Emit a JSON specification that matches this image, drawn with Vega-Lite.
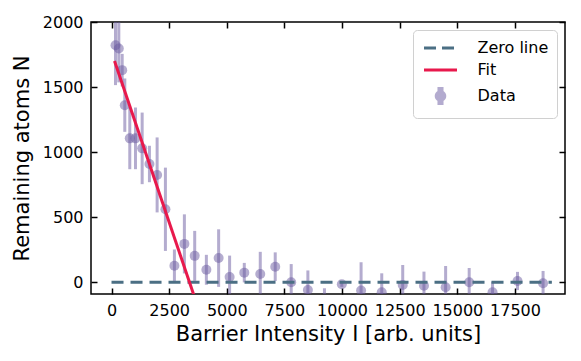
{
  "$schema": "https://vega.github.io/schema/vega-lite/v6.json",
  "width": 474,
  "height": 272,
  "autosize": {"type": "none"},
  "padding": {"left": 91, "top": 22, "right": 16, "bottom": 67},
  "background": "white",
  "config": {
    "font": "DejaVu Sans",
    "view": {"stroke": "black", "strokeWidth": 1.5},
    "axis": {
      "grid": false,
      "domain": false,
      "tickColor": "black",
      "tickWidth": 1.5,
      "tickSize": -6,
      "labelFont": "DejaVu Sans",
      "labelFontSize": 16,
      "labelColor": "black",
      "titleFont": "DejaVu Sans",
      "titleFontSize": 21,
      "titleFontWeight": "normal",
      "titleColor": "black"
    }
  },
  "datasets": {
    "pts": [
      {"x": 173, "y": 1822, "lo": 1515, "hi": 2129},
      {"x": 316, "y": 1796, "lo": 1536, "hi": 2056},
      {"x": 463, "y": 1630, "lo": 1505, "hi": 1755},
      {"x": 576, "y": 1361, "lo": 1156, "hi": 1566},
      {"x": 792, "y": 1106, "lo": 869, "hi": 1343},
      {"x": 1039, "y": 1106, "lo": 869, "hi": 1343},
      {"x": 1329, "y": 1029, "lo": 754, "hi": 1304},
      {"x": 1645, "y": 909, "lo": 769, "hi": 1049},
      {"x": 1978, "y": 825, "lo": 537, "hi": 1113},
      {"x": 2338, "y": 561, "lo": 241, "hi": 881},
      {"x": 2728, "y": 127, "lo": 2, "hi": 252},
      {"x": 3161, "y": 295, "lo": 68, "hi": 522},
      {"x": 3608, "y": 203, "lo": 11, "hi": 395},
      {"x": 4114, "y": 96, "lo": -19, "hi": 211},
      {"x": 4646, "y": 186, "lo": -35, "hi": 407},
      {"x": 5122, "y": 40, "lo": -125, "hi": 205},
      {"x": 5759, "y": 74, "lo": -1, "hi": 149},
      {"x": 6452, "y": 64, "lo": -106, "hi": 234},
      {"x": 7101, "y": 120, "lo": 10, "hi": 230},
      {"x": 7794, "y": 0, "lo": -140, "hi": 140},
      {"x": 8517, "y": -59, "lo": -209, "hi": 91},
      {"x": 9236, "y": -160, "lo": -274, "hi": -46},
      {"x": 9989, "y": -15, "lo": -35, "hi": 5},
      {"x": 10825, "y": -64, "lo": -282, "hi": 154},
      {"x": 11721, "y": -77, "lo": -223, "hi": 69},
      {"x": 12631, "y": -21, "lo": -175, "hi": 133},
      {"x": 13553, "y": -26, "lo": -134, "hi": 82},
      {"x": 14492, "y": -38, "lo": -201, "hi": 125},
      {"x": 15514, "y": 0, "lo": -110, "hi": 110},
      {"x": 16527, "y": -77, "lo": -159, "hi": 5},
      {"x": 17610, "y": 10, "lo": -60, "hi": 80},
      {"x": 18719, "y": -8, "lo": -103, "hi": 87}
    ],
    "zero": [
      {"x": 0, "y": 0, "series": "Zero line"},
      {"x": 19100, "y": 0, "series": "Zero line"}
    ],
    "fit": [
      {"x": 130, "y": 1701, "series": "Fit"},
      {"x": 3574, "y": -100, "series": "Fit"}
    ]
  },
  "layer": [
    {
      "data": {"name": "pts"},
      "mark": {"type": "rule", "strokeWidth": 3, "color": "#6a5aa0", "opacity": 0.5, "clip": true},
      "encoding": {
        "x": {"field": "x", "type": "quantitative",
              "scale": {"domain": [-890, 19670], "nice": false, "zero": false},
              "axis": {"orient": "bottom", "values": [0, 2500, 5000, 7500, 10000, 12500, 15000, 17500], "format": "d", "labelPadding": 14, "title": "Barrier Intensity  I [arb. units]", "titlePadding": 5}},
        "y": {"field": "lo", "type": "quantitative",
              "scale": {"domain": [-90, 2000], "nice": false, "zero": false},
              "axis": {"orient": "left", "values": [0, 500, 1000, 1500, 2000], "format": "d", "labelPadding": 14, "title": "Remaining atoms N", "titlePadding": 10}},
        "y2": {"field": "hi"}
      }
    },
    {
      "data": {"name": "pts"},
      "transform": [{"calculate": "'Data'", "as": "series"}],
      "mark": {"type": "point", "filled": true, "size": 100, "opacity": 0.5, "clip": true},
      "encoding": {
        "x": {"field": "x", "type": "quantitative", "axis": null},
        "y": {"field": "y", "type": "quantitative", "axis": null},
        "color": {"field": "series", "type": "nominal",
          "scale": {"domain": ["Zero line", "Fit", "Data"], "range": ["#4b6f84", "#e8194c", "#6a5aa0"]},
          "legend": {
            "title": null,
            "orient": "top-right",
            "offset": 8,
            "padding": 8,
            "rowPadding": 4,
            "labelFont": "DejaVu Sans",
            "labelFontSize": 16,
            "labelColor": "black",
            "labelOffset": 27,
            "symbolOffset": 9.5,
            "symbolSize": 289,
            "symbolStrokeWidth": 3,
            "strokeColor": "#d0d0d0",
            "cornerRadius": 4,
            "fillColor": "white",
            "encoding": {
              "symbols": {
                "shape": {"value": {"signal": "datum.value === 'Data' ? 'M-0.18,-0.88H0.18V0.88H-0.18Z M0.5,0A0.5,0.5 0 1,1 -0.5,0A0.5,0.5 0 1,1 0.5,0Z' : 'M-1.94,0H1.94'"}},
                "size": {"value": 289},
                "stroke": {"value": {"signal": "datum.value === 'Data' ? 'transparent' : (datum.value === 'Fit' ? '#e8194c' : '#4b6f84')"}},
                "fill": {"value": {"signal": "datum.value === 'Data' ? '#6a5aa0' : 'transparent'"}},
                "fillOpacity": {"value": 1},
                "strokeOpacity": {"value": 1},
                "opacity": {"value": {"signal": "datum.value === 'Data' ? 0.5 : 1"}},
                "strokeWidth": {"value": 3},
                "strokeDash": {"value": {"signal": "datum.value === 'Zero line' ? [12, 6] : [1, 0]"}}
              }
            }
          }
        }
      }
    },
    {
      "data": {"name": "zero"},
      "mark": {"type": "line", "strokeWidth": 3, "strokeDash": [12, 7], "clip": true},
      "encoding": {
        "x": {"field": "x", "type": "quantitative", "axis": null},
        "y": {"field": "y", "type": "quantitative", "axis": null},
        "color": {"field": "series", "type": "nominal"}
      }
    },
    {
      "data": {"name": "fit"},
      "mark": {"type": "line", "strokeWidth": 3, "clip": true},
      "encoding": {
        "x": {"field": "x", "type": "quantitative", "axis": null},
        "y": {"field": "y", "type": "quantitative", "axis": null},
        "color": {"field": "series", "type": "nominal"}
      }
    },
    {
      "data": {"name": "zero"},
      "mark": {"type": "point", "opacity": 0},
      "encoding": {
        "x": {"field": "x", "type": "quantitative",
              "axis": {"orient": "top", "values": [0, 2500, 5000, 7500, 10000, 12500, 15000, 17500], "labels": false, "title": null}},
        "y": {"field": "y", "type": "quantitative",
              "axis": {"orient": "right", "values": [0, 500, 1000, 1500, 2000], "labels": false, "title": null}}
      }
    }
  ],
  "resolve": {"axis": {"x": "independent", "y": "independent"}}
}
